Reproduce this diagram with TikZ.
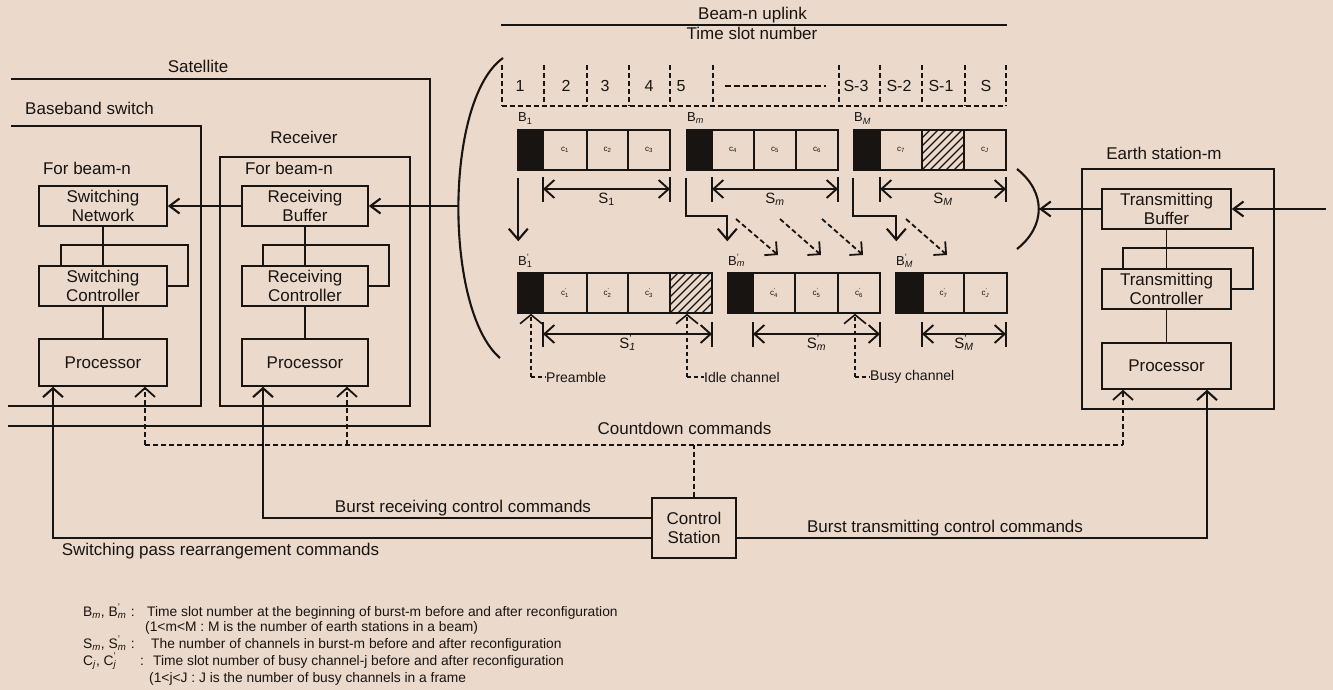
\documentclass[tikz,border=0pt]{standalone}
\usepackage{fontspec}
\setmainfont{Liberation Sans}
\usetikzlibrary{arrows.meta,calc}
\definecolor{bg}{RGB}{235,218,204}
\definecolor{ink}{RGB}{24,20,18}
\newcommand\subsup[2]{\makebox[0pt][l]{\textsuperscript{#2}}\textsubscript{#1}}
\newcommand\hatchcell[1]{%
  \begin{scope}
    \clip (#1.south west) rectangle (#1.north east);
    \foreach \k in {-48,-40,...,48} {\draw[ink,line width=1.2pt] ([xshift=\k]#1.south west) -- ++(48,-48);}
  \end{scope}}
\newcommand\sdim[4]{%
  \draw[ink,line width=1.9pt] (#1,#3-12) -- (#1,#3+13);
  \draw[ink,line width=1.9pt] (#2,#3-12) -- (#2,#3+13);
  \draw[ink,line width=1.9pt,{Straight Barb[length=10pt,width=18pt]}-{Straight Barb[length=10pt,width=18pt]}] (#1,#3) -- (#2,#3);
  \node[lbl,font=\fontsize{15}{17}\selectfont,anchor=base] at ({(#1+#2)/2},#3+14) {#4};}
\begin{document}
\begin{tikzpicture}[x=1pt,y=-1pt,
  wire/.style={draw=ink,line width=2.1pt},
  loopw/.style={draw=ink,line width=1.8pt},
  dwire/.style={draw=ink,line width=1.8pt,dash pattern=on 5pt off 3pt},
  pwire/.style={draw=ink,line width=1.6pt,dash pattern=on 4pt off 3pt},
  tipA/.style={-{Straight Barb[length=10pt,width=15pt]}},
  tipU/.style={-{Straight Barb[length=9pt,width=20pt]}},
  tipD/.style={-{Straight Barb[length=11pt,width=19pt]}},
  tipG/.style={-{Straight Barb[length=9pt,width=18pt]}},
  tipP/.style={-{Straight Barb[length=9pt,width=22pt]}},
  box/.style={draw=ink,line width=1.5pt,inner sep=0pt,minimum height=40pt,align=center,text=ink,font=\fontsize{17}{19.5}\selectfont},
  lbl/.style={inner sep=0pt,text=ink,font=\fontsize{17}{20}\selectfont},
  slbl/.style={lbl,font=\fontsize{16}{18}\selectfont,anchor=base},
  blbl/.style={lbl,font=\fontsize{13}{15}\selectfont,anchor=base west},
  plbl/.style={lbl,font=\fontsize{14}{16}\selectfont,anchor=west},
  leg/.style={lbl,font=\fontsize{13.8}{15}\selectfont,anchor=base west},
  cell/.style={draw=ink,line width=1.4pt,inner sep=0pt,minimum height=40pt,minimum width=42pt,text=ink,font=\fontsize{8}{9}\selectfont},
  pre/.style={cell,fill=ink,minimum width=25pt}
]
\fill[bg] (0,0) rectangle (1333,690);
\useasboundingbox (0,0) rectangle (1333,690);

% ---------- outlines ----------
\draw[wire] (11,79) -- (430,79) -- (430,426) -- (8,426);
\draw[wire] (11,126) -- (201,126) -- (201,406) -- (8,406);
\draw[wire] (220,157) rectangle (410,406);
\draw[wire] (1082,169) rectangle (1274,409);

\node[lbl,anchor=base] (tsat) at (198,73) {Satellite};
\node[lbl,anchor=base] (tbb) at (89.5,115) {Baseband switch};
\node[lbl,anchor=base] (trec) at (304,143) {Receiver};
\node[lbl,anchor=base] (tfb1) at (87,174) {For beam-n};
\node[lbl,anchor=base] (tfb2) at (289,174) {For beam-n};
\node[lbl,anchor=base] (tes) at (1164,159) {Earth station-m};

% ---------- boxes ----------
\node[box,minimum width=128pt] (swnet) at (103,206) {Switching\\Network};
\node[box,minimum width=128pt] (swctl) at (103,286) {Switching\\Controller};
\node[box,minimum width=128pt,minimum height=47pt] (proc1) at (103,362.5) {Processor};
\node[box,minimum width=126pt] (rbuf) at (305,206) {Receiving\\Buffer};
\node[box,minimum width=126pt] (rctl) at (305,286) {Receiving\\Controller};
\node[box,minimum width=126pt,minimum height=47pt] (proc2) at (305,362.5) {Processor};
\node[box,minimum width=129pt] (tbuf) at (1166.5,209) {Transmitting\\Buffer};
\node[box,minimum width=129pt] (tctl) at (1166.5,289) {Transmitting\\Controller};
\node[box,minimum width=129pt,minimum height=46pt] (proc3) at (1166.5,366) {Processor};
\node[box,minimum width=84pt,minimum height=60pt] (cs) at (694,528) {Control\\Station};

% internal links and loops
\draw[loopw] (swnet.south) -- (swctl.north);
\draw[loopw] (swctl.south) -- (proc1.north);
\draw[loopw] ([xshift=-42pt]swctl.north) -- ++(0,-20) -| ($(swctl.east)+(20,0)$) -- (swctl.east);
\draw[loopw] (rbuf.south) -- (rctl.north);
\draw[loopw] (rctl.south) -- (proc2.north);
\draw[loopw] ([xshift=-42pt]rctl.north) -- ++(0,-20) -| ($(rctl.east)+(20,0)$) -- (rctl.east);
\draw[loopw] (tbuf.south) -- (tctl.north);
\draw[loopw] (tctl.south) -- (proc3.north);
\draw[loopw] ([xshift=-43.5pt]tctl.north) -- ++(0,-20) -| ($(tctl.east)+(21,0)$) -- (tctl.east);

% brackets
\draw[wire] (503,58) .. controls (444,100) and (444,310) .. (500,358);
\coordinate (brL) at (458.5,206);
\draw[wire] (1017,169) .. controls (1046,192) and (1046,226) .. (1017,249);
\coordinate (arcR) at (1039,209);
\coordinate (inR) at (1326,209);

\draw[wire,tipA] (brL) -- (rbuf.east);
\draw[wire,tipA] (rbuf.west) -- (swnet.east);
\draw[wire,tipA] (inR) -- (tbuf.east);
\draw[wire,tipA] (tbuf.west) -- (arcR);

% ---------- uplink header ----------
\node[lbl,anchor=base] (tup) at (752.5,20) {Beam-n uplink};
\draw[wire] (501,25) -- (1007,25);
\node[lbl,anchor=base] (tts) at (752,40) {Time slot number};
\foreach \x in {502,544,587,629,670,713,839,880,922,965,1006}
  \draw[dwire] (\x,65) -- (\x,106);
\draw[dwire] (502,106) -- (1006,106);
\node[slbl] (n1) at (520,92) {1};
\node[slbl] (n2) at (566,92) {2};
\node[slbl] (n3) at (605,92) {3};
\node[slbl] (n4) at (649,92) {4};
\node[slbl] (n5) at (681,92) {5};
\draw[ink,line width=1.8pt,dash pattern=on 6pt off 3pt] (725,86) -- (826,86);
\node[slbl] (nS3) at (856,92) {S-3};
\node[slbl] (nS2) at (899,92) {S-2};
\node[slbl] (nS1) at (941,92) {S-1};
\node[slbl] (nS) at (986,92) {S};

% ---------- bursts before ----------
\node[blbl] (lb1) at (518,122) {B\textsubscript{1}};
\node[blbl] (lbm) at (687,122) {B\textsubscript{\textit{m}}};
\node[blbl] (lbM) at (854,122) {B\textsubscript{\textit{M}}};
\node[pre] (p1) at (530.5,150) {};
\node[cell,minimum width=44pt] (c1) at (565,150) {c\textsubscript{1}};
\node[cell,minimum width=41pt] (c2) at (607.5,150) {c\textsubscript{2}};
\node[cell] (c3) at (649,150) {c\textsubscript{3}};
\node[pre] (pm) at (699.5,150) {};
\node[cell] (c4) at (733,150) {c\textsubscript{4}};
\node[cell] (c5) at (775,150) {c\textsubscript{5}};
\node[cell] (c6) at (817,150) {c\textsubscript{6}};
\node[pre,minimum width=26pt] (pM) at (867,150) {};
\node[cell] (c7) at (901,150) {c\textsubscript{7}};
\node[cell] (h1) at (943,150) {};
\hatchcell{h1}
\node[cell] (cJ) at (985,150) {c\textsubscript{\textit{J}}};

\sdim{543}{670}{189}{S\textsubscript{1}}
\sdim{712}{838}{189}{S\textsubscript{\textit{m}}}
\sdim{880}{1006}{189}{S\textsubscript{\textit{M}}}

% ---------- bursts after ----------
\node[blbl] (lb1b) at (518,265) {B\subsup{1}{'}};
\node[blbl] (lbmb) at (728,265) {B\subsup{\textit{m}}{'}};
\node[blbl] (lbMb) at (896,265) {B\subsup{\textit{M}}{'}};
\node[pre] (p1b) at (530.5,293) {};
\node[cell,minimum width=44pt] (c1b) at (565,293) {c\subsup{1}{'}};
\node[cell,minimum width=41pt] (c2b) at (607.5,293) {c\subsup{2}{'}};
\node[cell] (c3b) at (649,293) {c\subsup{3}{'}};
\node[cell] (h2) at (691,293) {};
\hatchcell{h2}
\node[pre] (pmb) at (740.5,293) {};
\node[cell] (c4b) at (774,293) {c\subsup{4}{'}};
\node[cell,minimum width=43pt] (c5b) at (816.5,293) {c\subsup{5}{'}};
\node[cell] (c6b) at (859,293) {c\subsup{6}{'}};
\node[pre,minimum width=27pt] (pMb) at (909.5,293) {};
\node[cell,minimum width=41pt] (c7b) at (943.5,293) {c\subsup{7}{'}};
\node[cell,minimum width=43pt] (cJb) at (985.5,293) {c\subsup{\textit{J}}{'}};

\sdim{543}{712}{334}{S\subsup{\textit{1}}{'}}
\sdim{753}{880}{334}{S\subsup{\textit{m}}{'}}
\sdim{922}{1006}{334}{S\subsup{\textit{M}}{'}}

% ---------- reconfiguration arrows ----------
\draw[wire,tipD] ([shift={(1,7)}]p1.south west) -- ([shift={(1,-31)}]p1b.north west);
\draw[wire,tipD] ([yshift=-7pt]pm.south west) |- ([yshift=56pt]pmb.north west) -- ([yshift=31pt]pmb.north west);
\draw[wire,tipD] ([yshift=-7pt]pM.south west) |- ([shift={(1,-56)}]pMb.north west) -- ([shift={(1,-31)}]pMb.north west);
\coordinate (g1s) at (736,219); \coordinate (g1e) at (778,255);
\coordinate (g2s) at (780,219); \coordinate (g2e) at (821,255);
\coordinate (g3s) at (822,219); \coordinate (g3e) at (863,255);
\coordinate (g4s) at (906,219); \coordinate (g4e) at (947,255);
\draw[dwire,tipG] (g1s) -- (g1e);
\draw[dwire,tipG] (g2s) -- (g2e);
\draw[dwire,tipG] (g3s) -- (g3e);
\draw[dwire,tipG] (g4s) -- (g4e);

% ---------- pointers ----------
\node[plbl] (tpre) at (546,377) {Preamble};
\node[plbl] (tidle) at (704,377) {Idle channel};
\node[plbl] (tbusy) at (870,377) {Busy channel};
\coordinate (pa) at (531,377);
\coordinate (pb) at (687,377);
\coordinate (pc) at (855,377);
\draw[pwire,tipP] (pa) -- (pa |- p1b.south);
\draw[pwire] (pa) -- (tpre.west);
\draw[pwire,tipP] (pb) -- (pb |- h2.south);
\draw[pwire] (pb) -- (tidle.west);
\draw[pwire,tipP] (pc) -- (pc |- c6b.south);
\draw[pwire] (pc) -- (tbusy.west);

% ---------- command lines ----------
\coordinate (cdL) at (145,445);
\coordinate (cdM) at (347,445);
\coordinate (cdR) at (1123,445);
\draw[dwire] (cdL) -- (cdR);
\draw[dwire] (cs.north) -- (cs.north |- cdL);
\draw[dwire,tipU] (cdL) -- (proc1.south -| cdL);
\draw[dwire,tipU] (cdM) -- (proc2.south -| cdM);
\draw[dwire,tipU] (cdR) -- (proc3.south -| cdR);
\node[lbl,anchor=base] (tcd) at (684.5,434) {Countdown commands};

\coordinate (brc) at (263,518);
\coordinate (spc) at (53,538);
\coordinate (btc) at (1207,538);
\draw[wire,tipU] ([yshift=10pt]cs.west) -- (brc) -- (proc2.south -| brc);
\draw[wire,tipU] ([yshift=-10pt]cs.west) -- (spc) -- (proc1.south -| spc);
\draw[wire,tipU] ([yshift=-10pt]cs.east) -- (btc) -- (proc3.south -| btc);
\node[lbl,anchor=base] (tbr) at (463,512) {Burst receiving control commands};
\node[lbl,anchor=base] (tsp) at (220.5,555) {Switching pass rearrangement commands};
\node[lbl,anchor=base] (tbt) at (945,532) {Burst transmitting control commands};

% ---------- legend ----------
\node[leg] (l1a) at (83,616) {B\textsubscript{\textit{m}}, B\subsup{\textit{m}}{'}\,\,:};
\node[leg] (l1b) at (147,616) {Time slot number at the beginning of burst-m before and after reconfiguration};
\node[leg] (l2) at (145,631) {(1<m<M : M is the number of earth stations in a beam)};
\node[leg] (l3a) at (83,648) {S\textsubscript{\textit{m}}, S\subsup{\textit{m}}{'}\,\,:};
\node[leg] (l3b) at (151,648) {The number of channels in burst-m before and after reconfiguration};
\node[leg] (l4a) at (83,665) {C\textsubscript{\textit{j}}, C\subsup{\textit{j}}{'}};
\node[leg] (l4c) at (140,665) {:};
\node[leg] (l4b) at (153,665) {Time slot number of busy channel-j before and after reconfiguration};
\node[leg] (l5) at (149,682) {(1<j<J : J is the number of busy channels in a frame};
\end{tikzpicture}
\end{document}
